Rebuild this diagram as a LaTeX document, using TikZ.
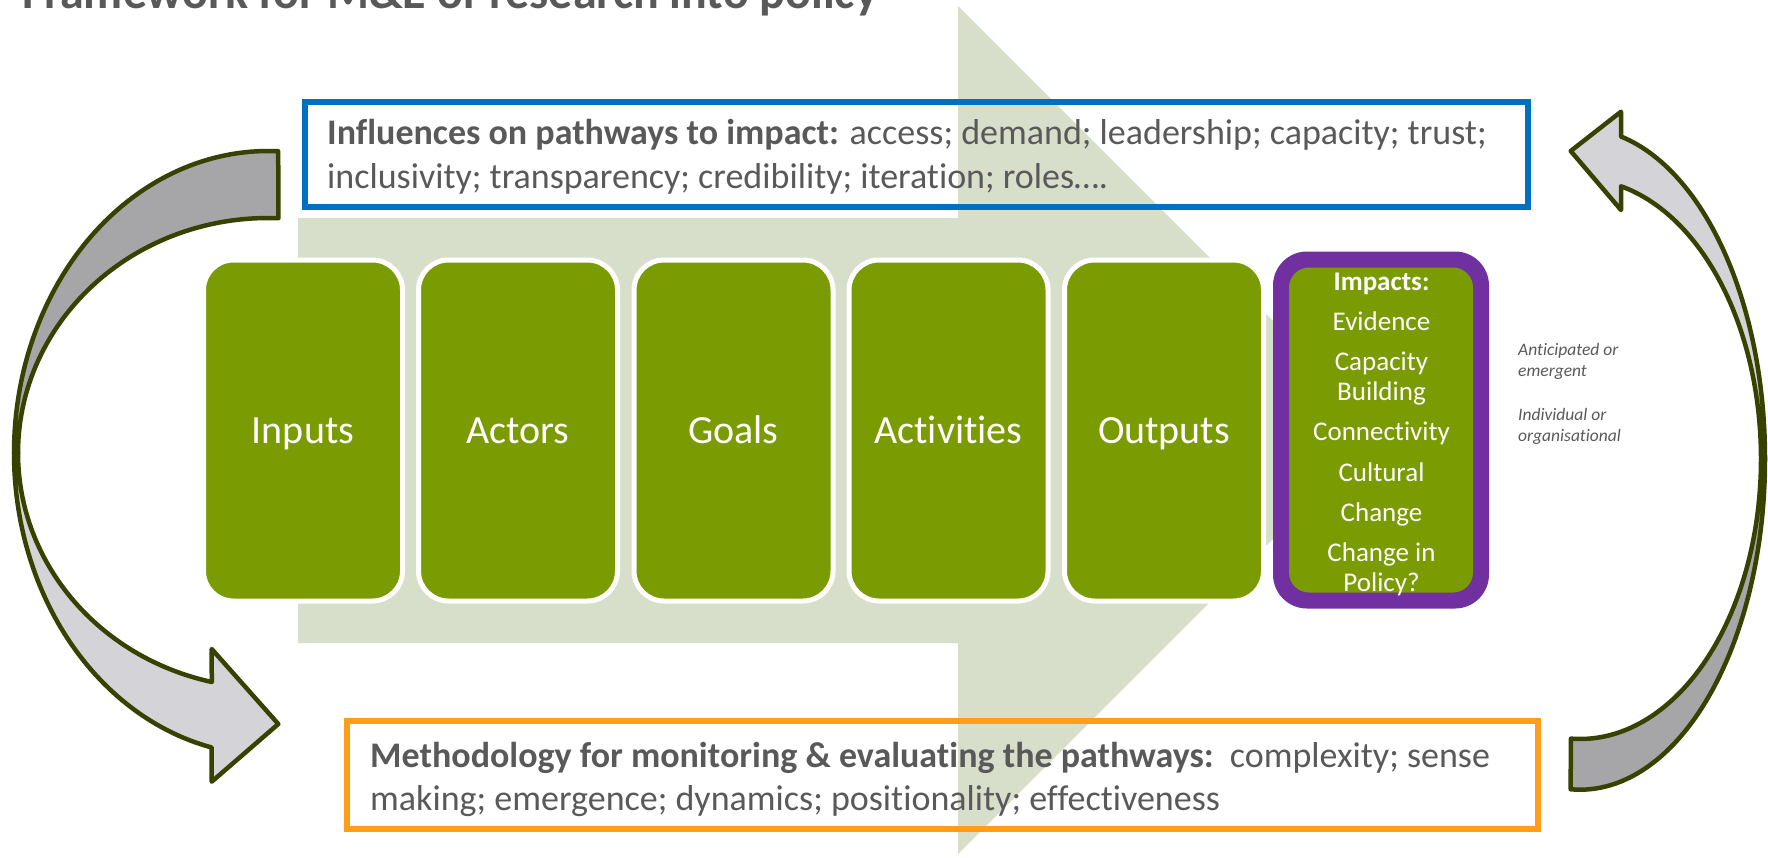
\documentclass[tikz,border=0pt]{standalone}
\usepackage{fontspec}
\setmainfont{Carlito}[Ligatures=NoCommon]
\definecolor{stagegreen}{RGB}{122,155,1}
\definecolor{bgarrow}{RGB}{215,223,203}
\definecolor{impactpurple}{RGB}{112,48,160}
\definecolor{infblue}{RGB}{0,112,192}
\definecolor{methorange}{RGB}{255,158,27}
\definecolor{arrowdark}{RGB}{56,66,0}
\definecolor{bandback}{RGB}{166,166,168}
\definecolor{bandfront}{RGB}{212,212,216}
\definecolor{textgray}{RGB}{89,89,89}
\newcommand\impline[1]{\hbox to 184pt{\hfil#1\hfil}}
\begin{document}
\begin{tikzpicture}[x=1pt,y=-1pt,
  stage/.style={rounded corners=30pt, fill=stagegreen, draw=white, line width=5pt,
    minimum width=199pt, minimum height=341pt, text=white, inner sep=0pt,
    font=\fontsize{40}{48}\selectfont, text height=26pt, text depth=0pt},
  textbox/.style={draw, rectangle, inner sep=0pt, fill=none},
  boxtext/.style={anchor=base west, inner sep=0pt, text=textgray,
    font=\fontsize{36}{44}\selectfont},
  curvearrow/.style={draw=arrowdark, line width=4.5pt, line join=round},
  note/.style={anchor=base west, inner sep=0pt, text=textgray,
    font=\fontsize{17.5}{21.7}\selectfont\itshape}
]
\useasboundingbox (0,0) rectangle (1768,857);
\clip (0,0) rectangle (1768,857);

% title (cut off at top)
\node[anchor=base west, inner sep=0pt, text=textgray,
  font=\fontsize{48}{56}\selectfont\bfseries] (title) at (22,8)
  {Framework for M\&E of research into policy};

% large background arrow
\fill[bgarrow] (298,218) -- (958,218) -- (958,6) -- (1382,430)
  -- (958,854) -- (958,643) -- (298,643) -- cycle;

% influences box
\node[textbox, draw=infblue, line width=6pt, minimum width=1223pt,
  minimum height=105pt] (influences) at (916.5,154.5) {};
\node[boxtext] (inftext) at (327,144)
  {\vtop{\baselineskip=44pt
   \hbox{\textbf{Influences on pathways to impact:} access; demand; leadership; capacity; trust;}
   \hbox{inclusivity; transparency; credibility; iteration; roles….}}};

% methodology box
\node[textbox, draw=methorange, line width=6.5pt, minimum width=1191pt,
  minimum height=108pt] (methodology) at (942.5,775) {};
\node[boxtext] (methtext) at (370,767)
  {\vtop{\baselineskip=43pt
   \hbox{\textbf{Methodology for monitoring \& evaluating the pathways:}\ \ complexity; sense}
   \hbox{making; emergence; dynamics; positionality; effectiveness}}};

% stages
\node[stage] (inputs) at (303,430.5) {Inputs};
\node[stage] (actors) at (518,430.5) {Actors};
\node[stage] (goals) at (733.5,430.5) {Goals};
\node[stage] (activities) at (948.5,430.5) {Activities};
\node[stage] (outputs) at (1164,430.5) {Outputs};

% impacts
\node[rectangle, rounded corners=34pt, fill=impactpurple, inner sep=0pt,
  minimum width=216pt, minimum height=357pt] (impactframe) at (1381,430) {};
\node[rectangle, rounded corners=20pt, fill=stagegreen, inner sep=0pt,
  minimum width=184pt, minimum height=325pt] (impacts) at (1381,430) {};
\node[anchor=base, inner sep=0pt, text=white,
  font=\fontsize{27}{29.5}\selectfont] (impacttext) at (1381.5,290)
  {\vtop{\baselineskip=29.5pt
   \impline{\textbf{Impacts:}}\vskip10.9pt
   \impline{Evidence}\vskip10.9pt
   \impline{Capacity}
   \impline{Building}\vskip10.9pt
   \impline{Connectivity}\vskip10.9pt
   \impline{Cultural}\vskip10.9pt
   \impline{Change}\vskip10.9pt
   \impline{Change in}
   \impline{Policy?}}};

% notes
\node[note] (notes) at (1518,355)
  {\vtop{\baselineskip=21.7pt
   \hbox{Anticipated or}\hbox{emergent}\vskip21.7pt
   \hbox{Individual or}\hbox{organisational}}};

% left curved arrow
\filldraw[curvearrow, fill=bandfront]
  plot[domain=180:102.8, samples=60] ({268+254*cos(\x)},{453+302*sin(\x)})
  -- (211.7,781.7) -- (278.3,724) -- (211.7,649)
  -- plot[domain=103:180, samples=60] ({268+250*cos(\x)},{453+235*sin(\x)})
  -- cycle;
\filldraw[curvearrow, fill=bandback]
  plot[domain=-87.7:-180, samples=60] ({268+254*cos(\x)},{453+302*sin(\x)})
  -- plot[domain=-180:-87.6, samples=60] ({268+250*cos(\x)},{453+235*sin(\x)})
  -- cycle;

% right curved arrow
\filldraw[curvearrow, fill=bandfront]
  plot[domain=0:-77.2, samples=60] ({1580+185*cos(\x)},{459+330.7*sin(\x)})
  -- (1621,111.7) -- (1570.7,151) -- (1621,210)
  -- plot[domain=-76.9:0, samples=60] ({1580+181*cos(\x)},{459+280*sin(\x)})
  -- cycle;
\filldraw[curvearrow, fill=bandback]
  plot[domain=92.9:0, samples=60] ({1580+185*cos(\x)},{459+330.7*sin(\x)})
  -- plot[domain=0:92.9, samples=60] ({1580+181*cos(\x)},{459+280*sin(\x)})
  -- cycle;
\end{tikzpicture}
\end{document}
